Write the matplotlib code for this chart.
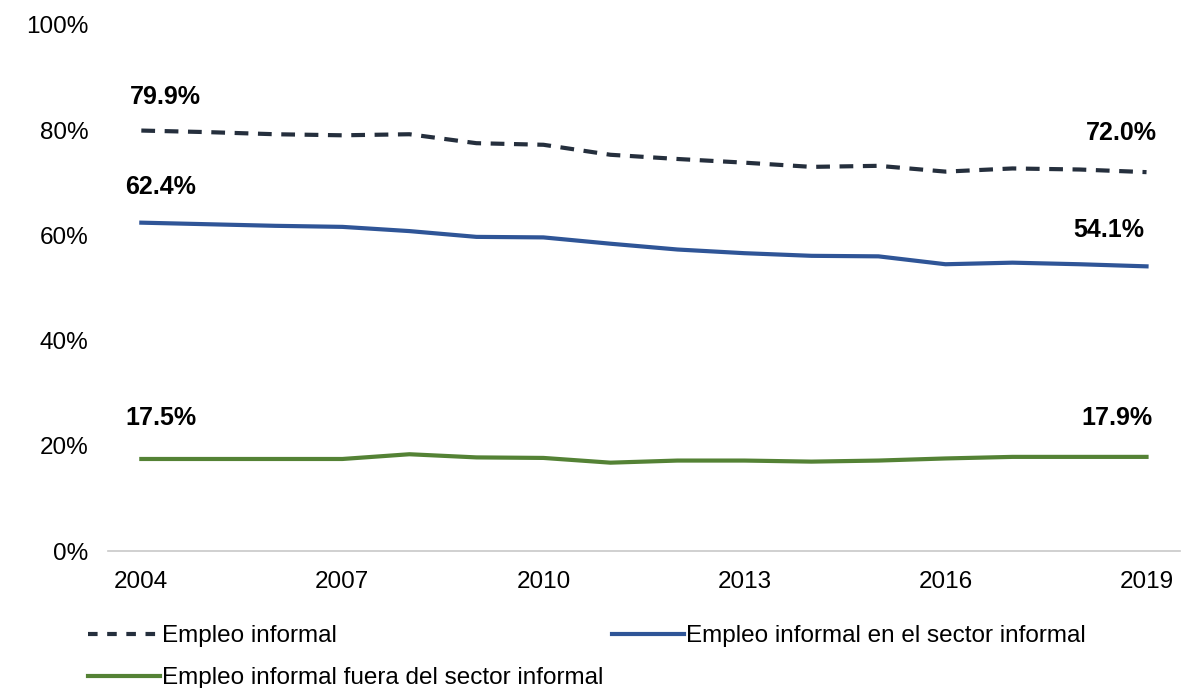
"""Informal employment shares, 2004-2019."""
import matplotlib
matplotlib.use("Agg")
import matplotlib.pyplot as plt
from matplotlib.lines import Line2D

years = list(range(2004, 2020))
empleo_informal = [79.9, 79.6, 79.2, 79.0, 79.2, 77.5, 77.2, 75.3, 74.5, 73.8,
                   73.0, 73.2, 72.1, 72.7, 72.5, 72.0]
informal_en_sector = [62.4, 62.1, 61.8, 61.6, 60.8, 59.7, 59.6, 58.4, 57.3, 56.6,
                      56.1, 56.0, 54.5, 54.8, 54.5, 54.1]
informal_fuera_sector = [17.5, 17.5, 17.5, 17.5, 18.4, 17.8, 17.7, 16.8, 17.2, 17.2,
                         17.0, 17.2, 17.6, 17.9, 17.9, 17.9]
xtick_years = [2004, 2007, 2010, 2013, 2016, 2019]
ytick_values = [0, 20, 40, 60, 80, 100]

series_names = ["Empleo informal",
                "Empleo informal en el sector informal",
                "Empleo informal fuera del sector informal"]

C_DARK = "#252f3d"
C_BLUE = "#2f5597"
C_GREEN = "#548235"

plt.rcParams["font.family"] = ["Liberation Sans", "DejaVu Sans"]

fig = plt.figure(figsize=(11.98, 6.88), dpi=100)
ax = fig.add_axes([0.090, 0.199, 0.895, 0.765])

l1, = ax.plot(years, empleo_informal, color=C_DARK, lw=3.0, dashes=(3.3, 2.3))
l2, = ax.plot(years, informal_en_sector, color=C_BLUE, lw=3.0)
l3, = ax.plot(years, informal_fuera_sector, color=C_GREEN, lw=3.0)

ax.set_xlim(2003.5, 2019.5)
ax.set_ylim(0, 100)
ax.set_xticks(xtick_years)
ax.set_xticklabels([str(y) for y in xtick_years])
ax.set_yticks(ytick_values)
ax.set_yticklabels([f"{v}%" for v in ytick_values])
ax.tick_params(axis="both", length=0, labelsize=17.5, colors="black")
ax.tick_params(axis="y", pad=14)
ax.tick_params(axis="x", pad=14)

for side in ["top", "right", "left"]:
    ax.spines[side].set_visible(False)
ax.spines["bottom"].set_color("#c8c8c8")
ax.spines["bottom"].set_linewidth(1.2)

# end-point labels: (series, first offset, last offset) in points
label_offsets = [
    (empleo_informal, (17, 24.5), (-18, 28)),
    (informal_en_sector, (14, 26), (-27, 26)),
    (informal_fuera_sector, (14, 29.5), (-21.5, 28)),
]
for vals, off_first, off_last in label_offsets:
    ax.annotate(f"{vals[0]:.1f}%", (years[0], vals[0]), xytext=off_first,
                textcoords="offset points", ha="center", va="center",
                fontsize=18, fontweight="bold")
    ax.annotate(f"{vals[-1]:.1f}%", (years[-1], vals[-1]), xytext=off_last,
                textcoords="offset points", ha="center", va="center",
                fontsize=18, fontweight="bold")

handles = [
    Line2D([], [], color=C_DARK, lw=3.0, dashes=(2.3, 2.3)),
    Line2D([], [], color=C_GREEN, lw=3.0),
    Line2D([], [], color=C_BLUE, lw=3.0),
]
labels = [series_names[0], series_names[2], series_names[1]]
fig.legend(handles, labels, loc="upper left", bbox_to_anchor=(0.0735, 0.091),
           ncol=2, frameon=False, fontsize=17.5, borderpad=0, borderaxespad=0,
           handlelength=2.95, handletextpad=0.1, columnspacing=0.35,
           labelspacing=0.82)

fig.savefig("out.png", dpi=100)
